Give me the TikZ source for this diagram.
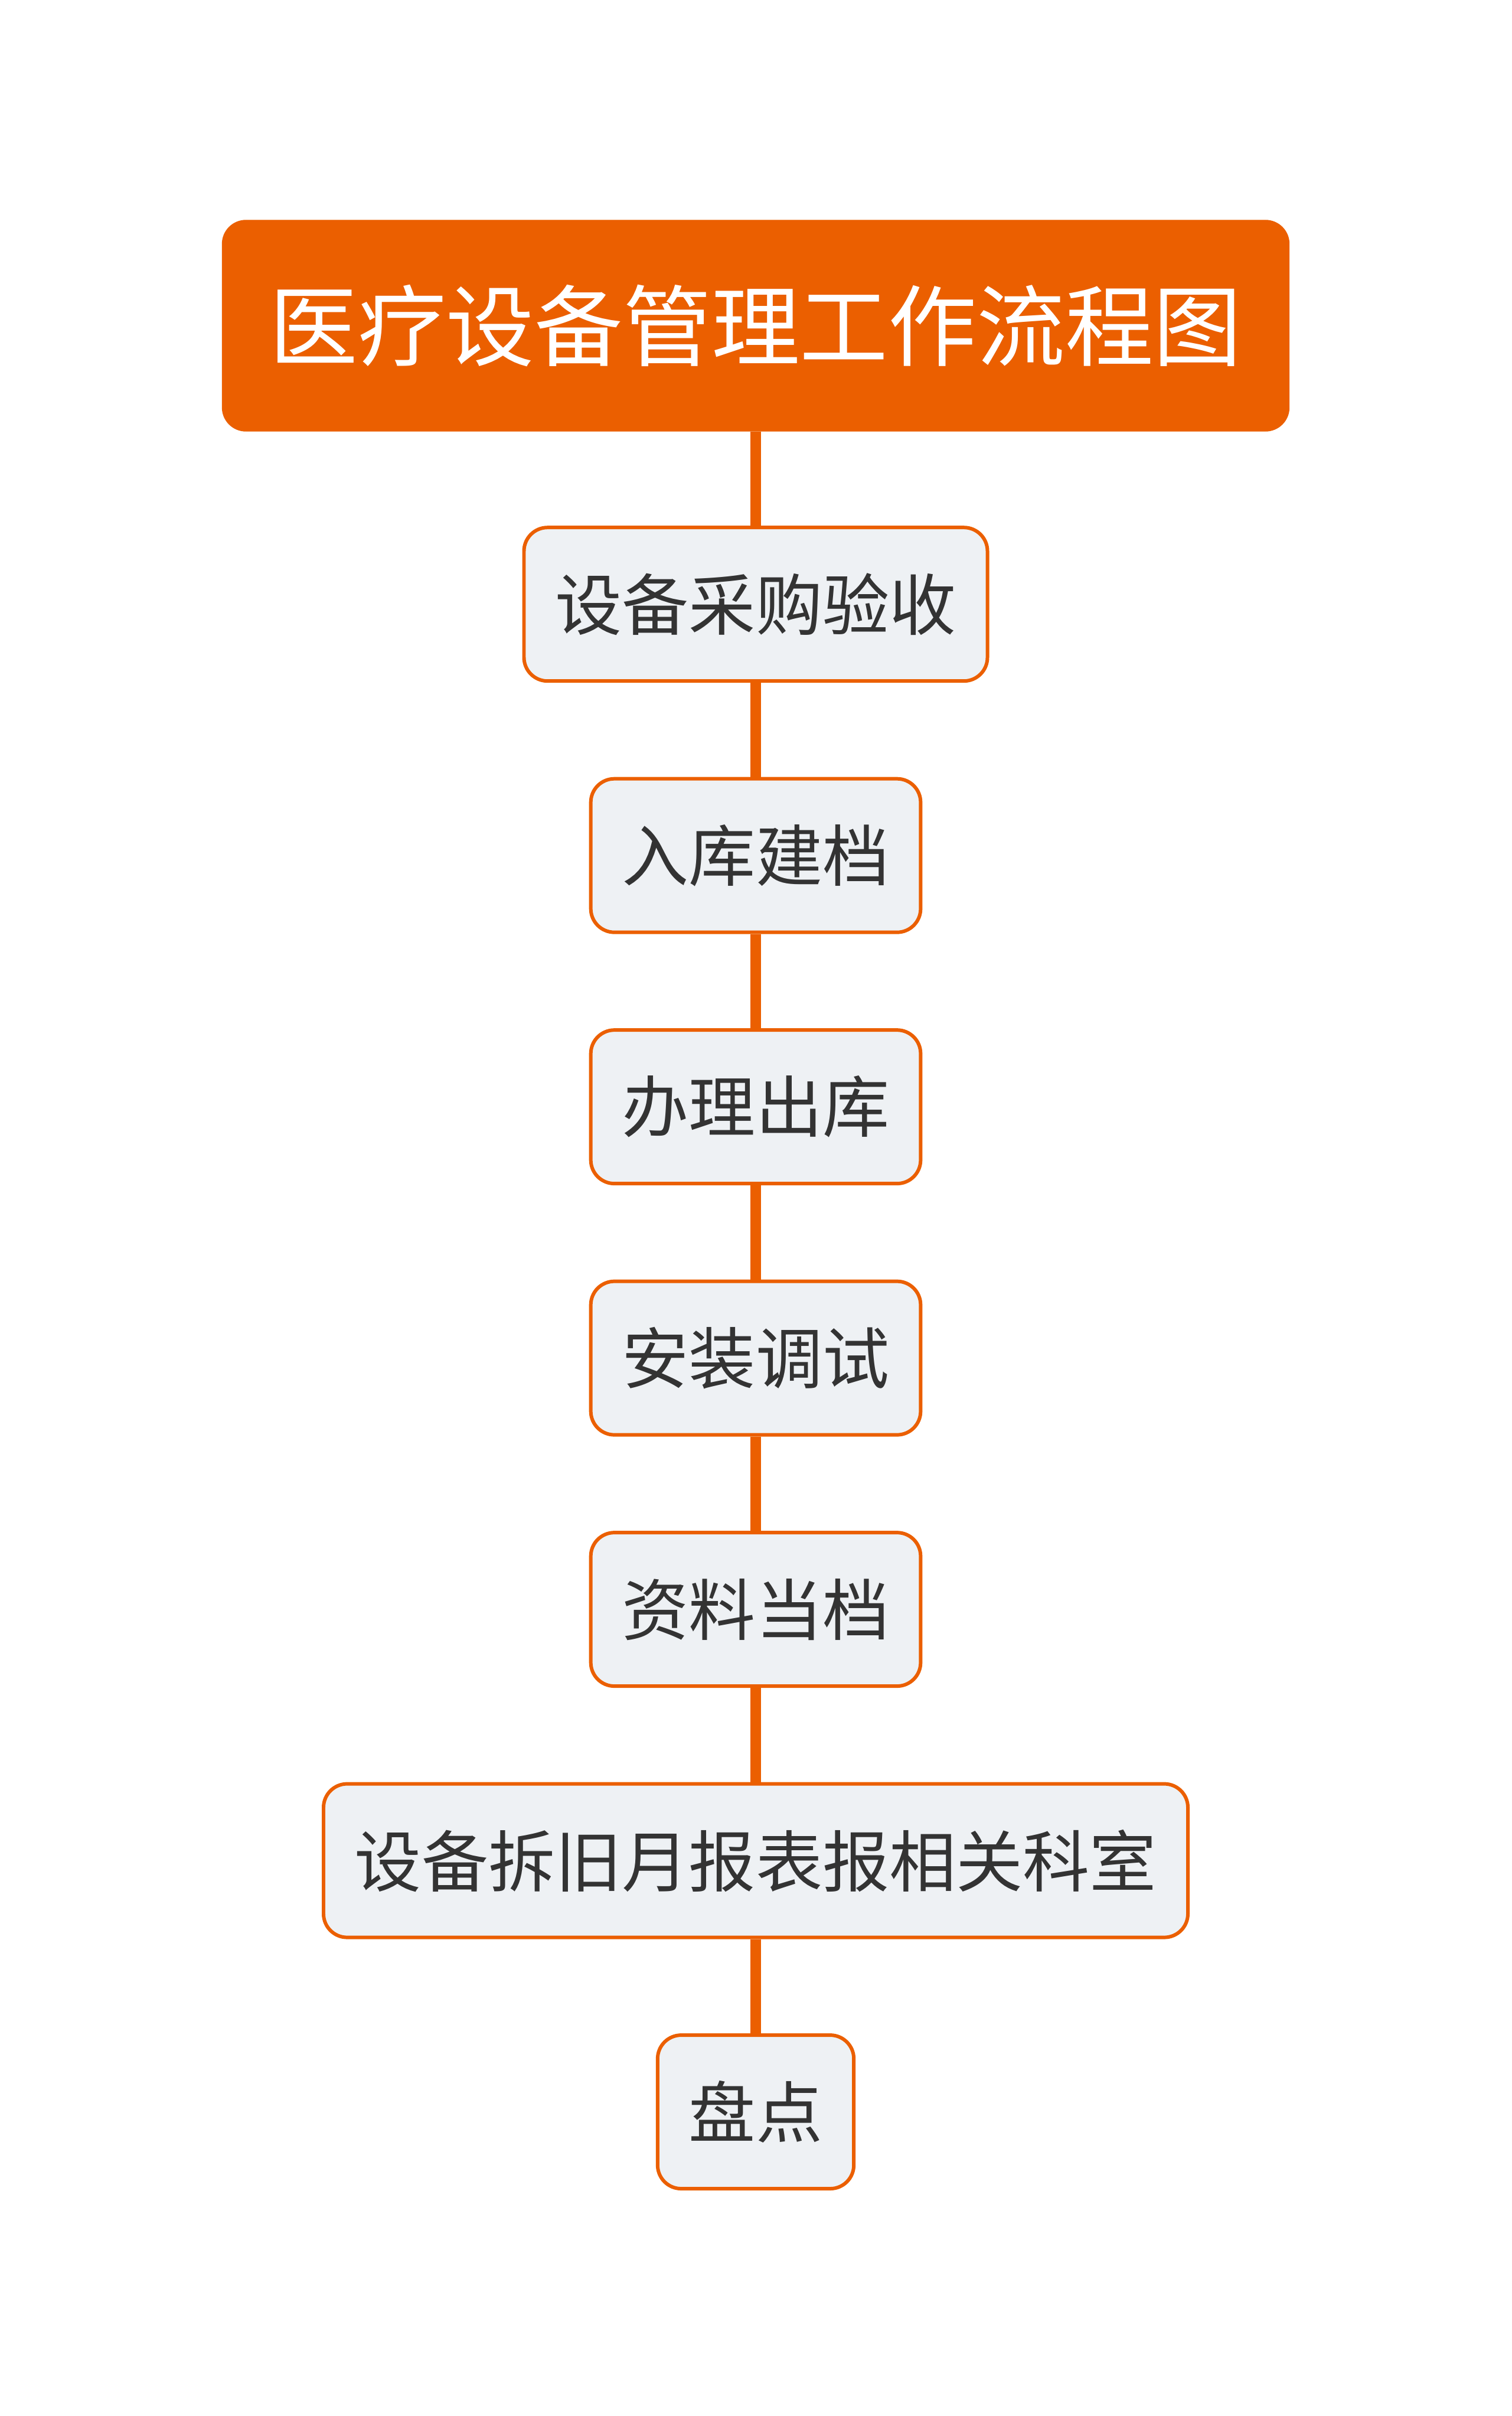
\documentclass[tikz,border=0pt]{standalone}
\usepackage{fontspec}
\setmainfont{Noto Sans CJK SC}
\usepackage{tikz}
\usetikzlibrary{positioning,chains}
\definecolor{flowOrange}{HTML}{EB5F00}
\definecolor{boxFill}{HTML}{EEF1F4}
\definecolor{boxText}{HTML}{333333}
\tikzset{
    titlebox/.style={
      rectangle,
      rounded corners=0.4cm,
      fill=flowOrange, draw=flowOrange,
      text=white,
      font=\fontsize{42.6pt}{48pt}\selectfont,
      inner xsep=0.8cm,
      minimum height=3.57cm,
      text centered,
      on chain},
    stepbox/.style={
      rectangle,
      rounded corners=0.4cm,
      fill=boxFill, draw=flowOrange, line width=1.7pt,
      text=boxText,
      font=\fontsize{32.2pt}{38pt}\selectfont,
      inner xsep=0.53cm,
      minimum height=2.6cm,
      text centered,
      on chain},
    every join/.style={draw=flowOrange, line width=5pt},
}
\begin{document}
\begin{tikzpicture}
      [node distance=1.595cm, start chain=going below,]
      \useasboundingbox (0,0) rectangle (25.6,-40.91);
      \node[titlebox] at (12.8,-5.515) (title) {医疗设备管理工作流程图};
      \node[stepbox, join] (purchase)  {设备采购验收};
      \node[stepbox, join] (storage)   {入库建档};
      \node[stepbox, join] (outbound)  {办理出库};
      \node[stepbox, join] (install)   {安装调试};
      \node[stepbox, join] (archive)   {资料当档};
      \node[stepbox, join] (report)    {设备拆旧月报表报相关科室};
      \node[stepbox, join] (inventory) {盘点};
\end{tikzpicture}
\end{document}
